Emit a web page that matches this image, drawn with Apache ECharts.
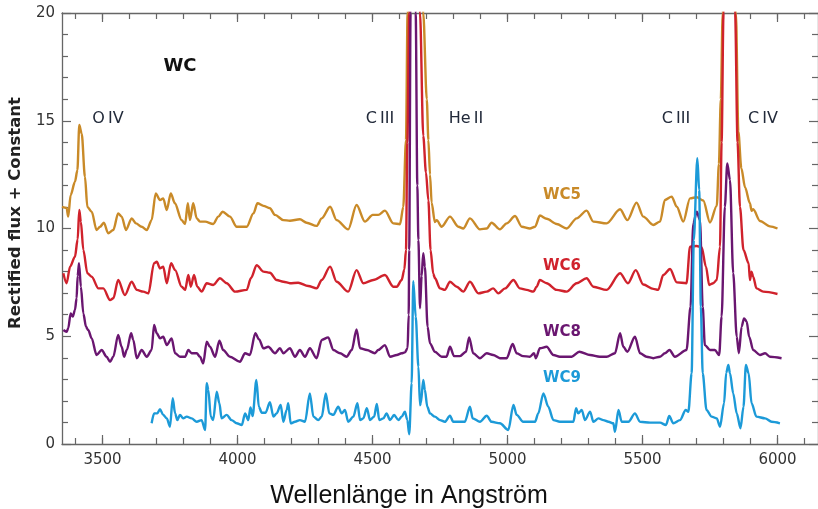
<!DOCTYPE html>
<html><head><meta charset="utf-8">
<script src="https://cdn.jsdelivr.net/npm/echarts@6/dist/echarts.min.js"></script>
<style>html,body{margin:0;padding:0;background:#fff}#c{width:818px;height:509px}</style>
</head><body><div id="c"></div>
<script>
// ---- data ----
const seriesNames = ['WC5', 'WC6', 'WC8', 'WC9'];
const seriesColors = ['#C98A28', '#D0222C', '#6A1670', '#1C9AD8'];
const xTicks = [3500, 4000, 4500, 5000, 5500, 6000];
const xMinorTicks = [3400, 3500, 3600, 3700, 3800, 3900, 4000, 4100, 4200, 4300, 4400, 4500, 4600, 4700, 4800, 4900, 5000, 5100, 5200, 5300, 5400, 5500, 5600, 5700, 5800, 5900, 6000, 6100];
const yTicks = [0, 5, 10, 15, 20];
const lineIds = ['O\u2009IV', 'C\u2009III', 'He\u2009II', 'C\u2009III', 'C\u2009IV'];
const panelTitle = 'WC';
const xTitle = 'Wellenlänge in Angström';
const yTitle = 'Rectified flux + Constant';

const wc5 = [[3350,11.0],[3367,10.95],[3373,10.55],[3382,11.55],[3398,12.17],[3407,12.7],[3414,14.8],[3423,14.4],[3435,12.4],[3444,11.0],[3460,10.78],[3478,9.93],[3491,10.08],[3505,10.27],[3521,9.78],[3540,9.93],[3558,10.7],[3571,10.55],[3587,9.93],[3608,10.47],[3624,10.24],[3645,10.08],[3664,9.93],[3682,10.39],[3697,11.63],[3713,11.32],[3725,11.4],[3738,10.86],[3753,11.63],[3768,11.17],[3793,10.39],[3806,10.21],[3816,11.17],[3824,10.39],[3836,11.17],[3849,10.47],[3861,10.32],[3880,10.32],[3910,10.21],[3929,10.55],[3945,10.78],[3972,10.55],[3997,10.08],[4034,10.08],[4059,10.7],[4074,11.17],[4096,11.05],[4120,10.94],[4139,10.63],[4170,10.39],[4194,10.36],[4231,10.43],[4256,10.27],[4293,10.12],[4312,10.47],[4343,11.01],[4367,10.39],[4410,9.96],[4441,11.09],[4472,10.32],[4501,10.63],[4521,10.63],[4546,10.83],[4577,10.24],[4602,10.2],[4614,11.0],[4624,14.1],[4630,20],[4645,28],[4660,32],[4675,28],[4688,20],[4701,16],[4707,14.1],[4713,12.5],[4719,11.2],[4731,10.3],[4738,10.39],[4756,10.08],[4787,10.55],[4818,10.08],[4836,10.0],[4861,10.47],[4898,9.96],[4923,10.0],[4941,10.27],[4972,9.96],[4997,10.24],[5028,10.58],[5053,10.08],[5083,10.0],[5102,10.08],[5120,10.6],[5145,10.45],[5182,10.21],[5219,10.0],[5256,10.47],[5293,10.83],[5318,10.32],[5367,10.24],[5417,10.89],[5444,10.39],[5478,11.2],[5503,10.55],[5540,10.16],[5565,10.32],[5583,11.32],[5608,11.48],[5627,11.01],[5651,10.32],[5676,11.4],[5701,11.45],[5725,11.3],[5750,10.28],[5775,11.05],[5783,13],[5790,16],[5797,20],[5810,28],[5822,32],[5835,28],[5846,20],[5855,14.5],[5866,12.8],[5880,11.9],[5898,11.17],[5904,10.82],[5910,10.89],[5935,10.35],[5972,10.1],[6000,10.0]];

const wc6 = [[3355,7.92],[3367,7.46],[3380,8.23],[3398,8.69],[3408,9.5],[3414,10.86],[3420,10.3],[3429,9.0],[3444,7.92],[3460,7.76],[3485,7.22],[3503,7.22],[3528,6.68],[3540,6.76],[3558,7.61],[3583,6.91],[3608,7.53],[3627,7.15],[3651,7.07],[3670,6.99],[3691,8.39],[3701,8.46],[3713,8.15],[3725,8.23],[3738,7.46],[3754,8.39],[3769,8.07],[3793,7.3],[3806,7.15],[3818,7.84],[3827,7.3],[3839,7.84],[3851,7.3],[3867,7.07],[3886,7.46],[3910,7.38],[3935,7.69],[3960,7.46],[3991,7.07],[4034,7.15],[4050,7.7],[4071,8.3],[4096,8.0],[4120,7.95],[4145,7.61],[4170,7.53],[4194,7.46],[4225,7.48],[4262,7.33],[4293,7.22],[4312,7.61],[4343,8.23],[4367,7.53],[4410,7.07],[4441,8.07],[4466,7.46],[4503,7.61],[4546,7.84],[4577,7.3],[4590,7.3],[4608,7.61],[4618,8.1],[4624,9.0],[4629,14],[4636,20],[4650,27],[4662,28],[4676,20],[4688,14.3],[4698,12.6],[4707,11.3],[4715,9.0],[4725,7.9],[4731,7.7],[4750,7.22],[4768,7.15],[4787,7.53],[4812,7.3],[4836,7.07],[4861,7.53],[4892,6.99],[4923,7.07],[4947,7.22],[4966,6.99],[4991,7.22],[5022,7.61],[5046,7.22],[5071,7.15],[5096,7.07],[5108,7.3],[5120,7.61],[5145,7.46],[5182,7.15],[5219,7.07],[5256,7.46],[5293,7.69],[5318,7.3],[5367,7.15],[5417,7.92],[5446,7.46],[5475,8.07],[5503,7.4],[5540,7.2],[5558,7.15],[5577,7.84],[5602,8.12],[5627,7.5],[5663,7.46],[5676,9.16],[5701,9.19],[5719,9.13],[5735,8.23],[5747,7.38],[5762,7.46],[5775,7.61],[5787,9.16],[5793,14],[5800,20],[5815,27],[5828,27],[5843,20],[5852,14],[5861,11.0],[5874,9.0],[5893,8.39],[5898,7.61],[5904,8.0],[5910,7.76],[5922,7.22],[5947,7.07],[6000,6.96]];

const wc8 = [[3355,5.29],[3367,5.21],[3373,5.37],[3382,6.06],[3390,5.91],[3398,6.22],[3404,6.76],[3408,7.8],[3413,8.39],[3420,7.3],[3429,6.06],[3439,5.44],[3447,5.29],[3460,4.9],[3478,4.13],[3497,4.36],[3515,4.05],[3528,3.82],[3540,4.05],[3558,5.06],[3571,4.51],[3580,4.05],[3590,4.36],[3606,5.14],[3614,4.83],[3627,3.98],[3645,4.36],[3664,4.05],[3682,4.36],[3691,5.52],[3701,5.14],[3713,4.9],[3725,4.98],[3738,4.59],[3756,4.9],[3769,4.21],[3787,4.05],[3806,4.05],[3818,4.36],[3830,4.21],[3849,4.21],[3861,4.05],[3873,3.74],[3886,4.75],[3898,4.51],[3917,4.05],[3933,4.79],[3947,4.36],[3972,4.05],[4009,3.82],[4028,4.21],[4046,4.13],[4066,5.14],[4080,4.85],[4096,4.44],[4114,4.51],[4139,4.21],[4157,4.44],[4170,4.21],[4194,4.44],[4213,4.05],[4231,4.36],[4250,4.05],[4268,4.44],[4293,3.98],[4312,4.83],[4336,4.95],[4355,4.36],[4380,4.21],[4404,4.05],[4423,4.36],[4441,5.32],[4454,4.44],[4479,4.36],[4509,4.21],[4521,4.36],[4546,4.59],[4565,4.05],[4590,4.13],[4608,4.21],[4620,4.25],[4630,4.45],[4634,6],[4636,9],[4641,20],[4650,24],[4660,20],[4666,12],[4670,9.47],[4676,6.3],[4682,7.8],[4688,8.85],[4694,8.23],[4704,5.44],[4713,4.67],[4731,4.28],[4756,4.05],[4774,4.05],[4787,4.51],[4802,4.08],[4824,4.08],[4846,4.28],[4858,4.95],[4873,4.21],[4898,3.98],[4923,4.21],[4947,4.13],[4972,3.98],[4997,3.98],[5019,4.64],[5034,4.21],[5058,4.08],[5083,4.05],[5098,4.21],[5105,3.98],[5120,4.44],[5145,4.51],[5170,4.13],[5194,4.05],[5238,4.05],[5266,4.28],[5306,4.13],[5342,4.05],[5367,4.05],[5398,4.21],[5417,5.14],[5429,4.51],[5444,4.28],[5472,4.98],[5491,4.21],[5515,4.05],[5540,3.98],[5565,4.05],[5583,4.21],[5600,4.36],[5620,4.05],[5663,4.36],[5678,6.37],[5688,10.24],[5701,10.78],[5713,10.39],[5723,6.37],[5731,4.59],[5750,4.36],[5768,4.36],[5784,4.13],[5793,5.91],[5805,11.01],[5814,13.02],[5824,12.25],[5836,7.92],[5849,4.98],[5857,4.21],[5867,5.44],[5876,5.83],[5886,5.68],[5895,4.98],[5910,4.36],[5935,4.13],[5954,4.21],[5972,4.05],[6015,3.98]];

const wc9 = [[3682,0.96],[3691,1.42],[3703,1.42],[3713,1.61],[3725,1.35],[3738,1.19],[3750,0.8],[3760,2.12],[3769,1.42],[3777,1.11],[3787,1.35],[3799,1.19],[3812,1.27],[3830,1.19],[3849,1.03],[3867,1.11],[3880,0.65],[3886,2.82],[3892,2.51],[3901,1.27],[3910,1.11],[3923,2.43],[3933,1.89],[3941,1.19],[3960,1.35],[3978,1.11],[3997,0.96],[4016,0.88],[4028,1.42],[4040,1.11],[4048,1.7],[4056,1.3],[4070,2.97],[4079,1.73],[4090,1.45],[4104,1.45],[4120,1.94],[4133,1.27],[4145,1.42],[4160,1.81],[4170,1.03],[4182,1.58],[4188,1.89],[4197,0.96],[4213,1.03],[4231,1.11],[4250,1.03],[4268,2.35],[4281,1.27],[4299,1.11],[4312,1.27],[4327,2.35],[4340,1.42],[4355,1.35],[4373,1.73],[4386,1.42],[4398,1.58],[4410,1.03],[4429,1.27],[4444,1.89],[4454,1.11],[4466,1.19],[4479,1.66],[4491,1.11],[4506,1.27],[4516,1.86],[4525,1.11],[4540,1.19],[4552,1.42],[4565,1.11],[4580,1.35],[4596,1.11],[4608,1.27],[4620,1.5],[4629,1.11],[4636,0.45],[4645,2.82],[4651,7.55],[4660,5.91],[4670,3.59],[4676,1.8],[4679,1.89],[4688,2.97],[4694,2.51],[4703,1.73],[4713,1.42],[4731,1.27],[4750,1.11],[4768,1.03],[4787,1.31],[4799,1.03],[4824,1.03],[4842,1.03],[4861,1.73],[4871,1.19],[4898,1.03],[4923,1.31],[4941,1.03],[4972,0.96],[5003,0.65],[5022,1.81],[5034,1.35],[5058,1.03],[5083,1.03],[5102,1.03],[5114,1.42],[5133,2.35],[5151,1.73],[5170,1.11],[5194,1.03],[5219,1.03],[5244,1.03],[5254,1.66],[5262,1.42],[5275,1.58],[5287,1.11],[5306,1.5],[5318,1.03],[5337,1.19],[5355,1.11],[5374,1.03],[5392,0.96],[5398,0.57],[5411,1.58],[5423,1.03],[5448,1.03],[5472,1.42],[5491,1.03],[5528,0.99],[5565,0.99],[5587,0.88],[5599,1.3],[5614,0.96],[5639,1.11],[5660,1.58],[5670,1.5],[5682,3.28],[5690,9.47],[5703,13.26],[5710,11.79],[5716,6.37],[5723,3.28],[5737,1.58],[5756,1.27],[5775,1.19],[5787,0.8],[5802,1.89],[5810,3.3],[5818,3.67],[5824,3.28],[5836,2.35],[5849,1.42],[5863,0.73],[5874,1.73],[5883,3.67],[5893,3.28],[5904,1.89],[5922,1.27],[5954,1.19],[5978,1.03],[6009,0.96]];

const seriesData = [wc5, wc6, wc8, wc9];

// ---- chart ----
const chart = echarts.init(document.getElementById('c'), null, {renderer: 'canvas'});
const axisColor = '#666';
const tickFont = {fontFamily: 'DejaVu Sans', fontSize: 15, color: '#333', formatter: v => String(v)};

function xAx(pos, major) {
  return {
    type: 'value', position: pos, min: 3350, max: 6150,
    axisLine: {show: major, lineStyle: {color: axisColor, width: 1.3}},
    axisTick: {show: true, inside: true, length: major ? 9 : 6, customValues: major ? xTicks : xMinorTicks,
               lineStyle: {color: axisColor, width: 1.2}},
    axisLabel: (major && pos === 'bottom') ? Object.assign({show: true, customValues: xTicks, margin: 9}, tickFont) : {show: false},
    splitLine: {show: false}
  };
}
function yAx(pos) {
  return {
    type: 'value', position: pos, min: 0, max: 20, interval: 5,
    axisLine: {show: true, lineStyle: {color: axisColor, width: 1.3}},
    axisTick: {show: true, inside: true, length: 9, lineStyle: {color: axisColor, width: 1.2}},
    minorTick: {show: true, splitNumber: 5, length: 6, lineStyle: {color: axisColor, width: 1.2}},
    axisLabel: pos === 'left' ? Object.assign({show: true, margin: 7}, tickFont) : {show: false},
    splitLine: {show: false}, minorSplitLine: {show: false}
  };
}

const annFont = '16px "DejaVu Sans"';
const annColor = '#222a3a';
const annPos = [[108, 119], [380, 119], [466, 119], [676, 119], [763, 119]];
const labelPos = [[562, 195], [562, 266], [562, 332], [562, 378]];

const graphic = [];
lineIds.forEach((t, i) => graphic.push({type: 'text', x: annPos[i][0], y: annPos[i][1], z: 10,
  style: {text: t, font: annFont, fill: annColor, align: 'center', verticalAlign: 'middle'}}));
seriesNames.forEach((t, i) => graphic.push({type: 'text', x: labelPos[i][0], y: labelPos[i][1], z: 10,
  style: {text: t, font: 'bold 15px "DejaVu Sans"', fill: seriesColors[i], align: 'center', verticalAlign: 'middle'}}));
graphic.push({type: 'text', x: 180, y: 66, z: 10,
  style: {text: panelTitle, font: 'bold 18px "DejaVu Sans"', fill: '#111', align: 'center', verticalAlign: 'middle'}});
graphic.push({type: 'text', x: 409, y: 496, z: 10,
  style: {text: xTitle, font: '25px "Liberation Sans"', fill: '#111', align: 'center', verticalAlign: 'middle'}});
graphic.push({type: 'text', x: 16, y: 213, rotation: Math.PI / 2, z: 10,
  style: {text: yTitle, font: 'bold 16.5px "DejaVu Sans"', fill: '#222', align: 'center', verticalAlign: 'middle'}});

chart.setOption({
  animation: false,
  backgroundColor: '#fff',
  grid: {left: 62, right: 0, top: 13, bottom: 65, containLabel: false},
  xAxis: [xAx('bottom', true), xAx('bottom', false), xAx('top', true), xAx('top', false)],
  yAxis: [yAx('left'), yAx('right')],
  graphic: graphic,
  series: seriesData.map((d, i) => ({
    name: seriesNames[i], type: 'line', data: d, xAxisIndex: 0, yAxisIndex: 0,
    showSymbol: false, smooth: 0.3, smoothMonotone: 'x', clip: true,
    lineStyle: {color: seriesColors[i], width: 2.4}, z: 2 + i
  }))
});
</script></body></html>
